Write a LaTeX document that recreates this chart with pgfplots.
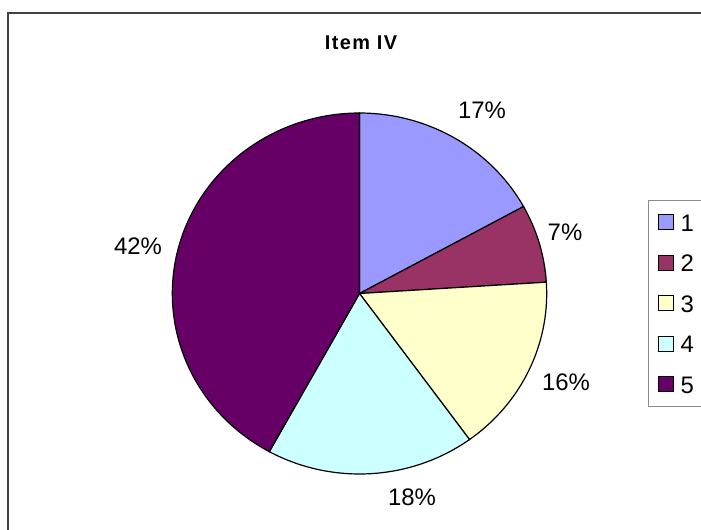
\documentclass[border=0pt]{standalone}
\usepackage{pgfplots}
\usepackage{pgfplotstable}
\pgfplotsset{compat=1.18}
\usepackage{fontspec}
\setmainfont{Liberation Sans}
\definecolor{c1}{HTML}{9999FF}
\definecolor{c2}{HTML}{993366}
\definecolor{c3}{HTML}{FFFFCC}
\definecolor{c4}{HTML}{CCFFFF}
\definecolor{c5}{HTML}{660066}
\pgfplotstableread{
slice value
1 17
2 7
3 16
4 18
5 42
}\piedata
\begin{document}
\begin{tikzpicture}
\useasboundingbox (0,0) rectangle (701bp,530bp);
\pgfplotstablegetelem{0}{value}\of\piedata \let\vA\pgfplotsretval
\pgfplotstablegetelem{1}{value}\of\piedata \let\vB\pgfplotsretval
\pgfplotstablegetelem{2}{value}\of\piedata \let\vC\pgfplotsretval
\pgfplotstablegetelem{3}{value}\of\piedata \let\vD\pgfplotsretval
\pgfplotstablegetelem{4}{value}\of\piedata \let\vE\pgfplotsretval
\pgfmathsetmacro\aA{90}
\pgfmathsetmacro\aB{\aA-3.6*\vA}
\pgfmathsetmacro\aC{\aB-3.6*\vB}
\pgfmathsetmacro\aD{\aC-3.6*\vC}
\pgfmathsetmacro\aE{\aD-3.6*\vD}
\pgfmathsetmacro\aF{\aE-3.6*\vE}
\begin{axis}[
  at={(0,0)}, anchor=south west,
  scale only axis, width=701bp, height=530bp,
  xmin=0, xmax=701, ymin=0, ymax=530, y dir=reverse,
  hide axis, clip=false,
  legend image code/.code={\draw[#1,draw=black,line width=1.1bp] (0bp,-7.5bp) rectangle (15bp,7.5bp);},
  legend style={at={(axis cs:648,200)}, anchor=north west, draw=black!45, line width=1bp,
    inner xsep=9bp, inner ysep=13bp, row sep=23bp, column sep=7bp,
    nodes={inner sep=0pt, text height=17.5bp, text depth=0bp, anchor=west, text width=24bp,
      font=\fontsize{24}{26}\selectfont}},
  legend cell align=left,
]
\addplot[fill=c1, draw=black, line width=1.2bp, domain=\aB:\aA, samples=60, variable=\t]
  ({359.5+187.2*cos(\t)}, {293.5-180.5*sin(\t)}) -- (axis cs:359.5,293.5) -- cycle;
\addlegendentry{1}
\addplot[fill=c2, draw=black, line width=1.2bp, domain=\aC:\aB, samples=30, variable=\t]
  ({359.5+187.2*cos(\t)}, {293.5-180.5*sin(\t)}) -- (axis cs:359.5,293.5) -- cycle;
\addlegendentry{2}
\addplot[fill=c3, draw=black, line width=1.2bp, domain=\aD:\aC, samples=60, variable=\t]
  ({359.5+187.2*cos(\t)}, {293.5-180.5*sin(\t)}) -- (axis cs:359.5,293.5) -- cycle;
\addlegendentry{3}
\addplot[fill=c4, draw=black, line width=1.2bp, domain=\aE:\aD, samples=60, variable=\t]
  ({359.5+187.2*cos(\t)}, {293.5-180.5*sin(\t)}) -- (axis cs:359.5,293.5) -- cycle;
\addlegendentry{4}
\addplot[fill=c5, draw=black, line width=1.2bp, domain=\aF:\aE, samples=120, variable=\t]
  ({359.5+187.2*cos(\t)}, {293.5-180.5*sin(\t)}) -- (axis cs:359.5,293.5) -- cycle;
\addlegendentry{5}
\draw[line width=2.2bp, black!75] (axis cs:8,535) -- (axis cs:8,13) -- (axis cs:710,13);
\node[anchor=base, font=\fontsize{20}{22}\selectfont\bfseries\addfontfeatures{LetterSpace=7}] at (axis cs:361,49) {Item IV};
\begin{scope}[every node/.style={font=\fontsize{24}{28}\selectfont}]
\node at (axis cs:482,110) {17\%};
\node at (axis cs:565,232) {7\%};
\node at (axis cs:566,382) {16\%};
\node at (axis cs:412,497) {18\%};
\node at (axis cs:138,246) {42\%};
\end{scope}
\end{axis}
\end{tikzpicture}
\end{document}
